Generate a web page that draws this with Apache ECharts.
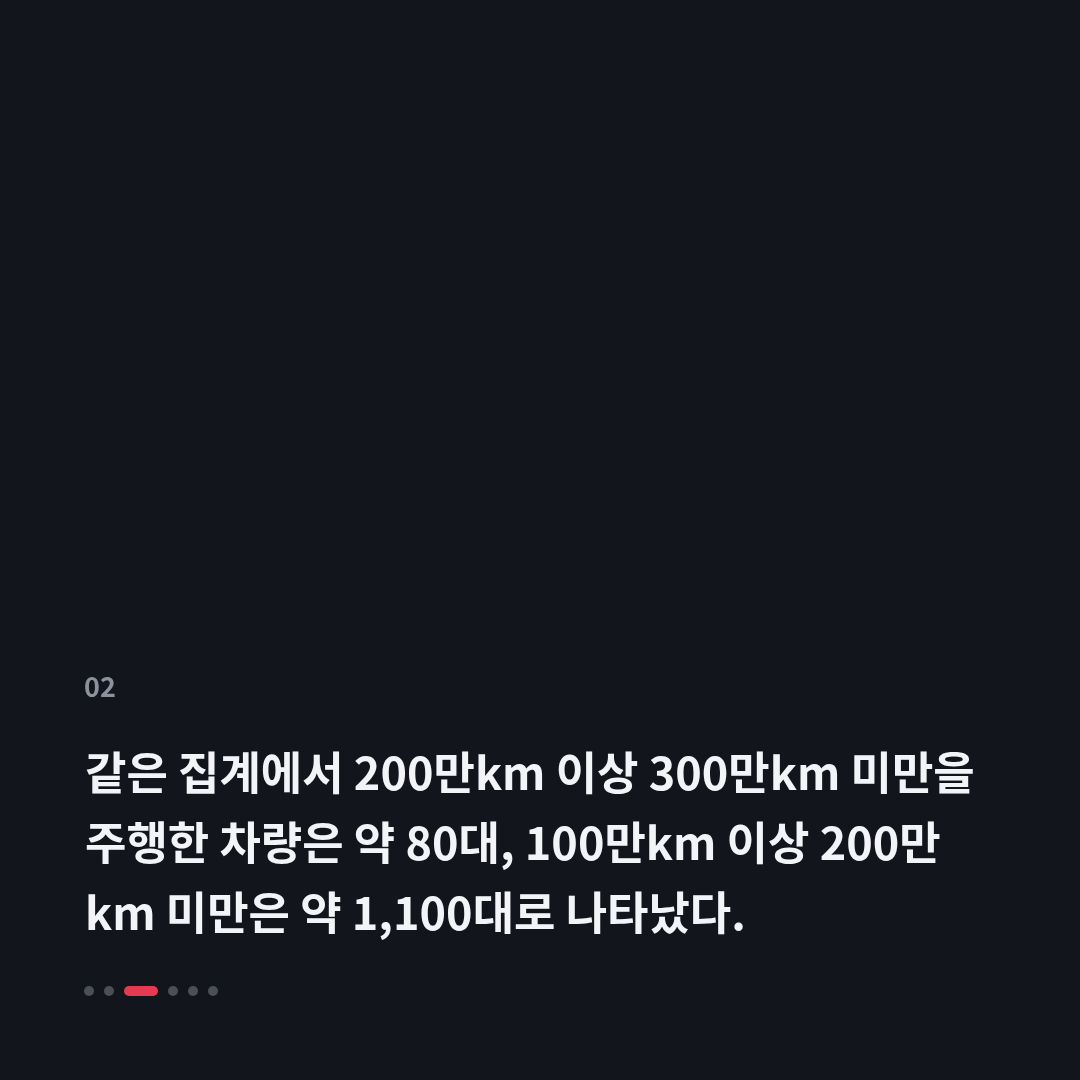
<!DOCTYPE html>
<html><head><meta charset="utf-8">
<script src="https://cdn.jsdelivr.net/npm/echarts@6/dist/echarts.min.js"></script>
<style>html,body{margin:0;padding:0;background:#12151c;}#c{width:1080px;height:1080px;}</style>
</head><body><div id="c"></div>
<script>
const slideNumber = "02";
const bodyLines = [
  "같은 집계에서 200만km 이상 300만km 미만을",
  "주행한 차량은 약 80대, 100만km 이상 200만",
  "km 미만은 약 1,100대로 나타났다."
];
const pageCount = 6;
const activePage = 2;

const chart = echarts.init(document.getElementById('c'), null, {renderer: 'canvas'});
const graphics = [];
graphics.push({
  type: 'text', x: 84, y: 687,
  style: {text: slideNumber, fill: '#8a929d', font: '600 27px "Noto Sans CJK KR", "Noto Sans"', letterSpacing: 2, textVerticalAlign: 'middle'}
});
bodyLines.forEach((t, i) => {
  graphics.push({
    type: 'text', x: 85, y: 773 + i * 70,
    style: {text: t, fill: '#f3f4f7', font: 'bold 45px "Noto Sans CJK KR"', textVerticalAlign: 'middle', textAlign: 'left'}
  });
});
let x = 84;
for (let i = 0; i < pageCount; i++) {
  if (i === activePage) {
    graphics.push({type: 'rect', shape: {x: x, y: 986, width: 34, height: 10, r: 5}, style: {fill: '#e63a52'}});
    x += 34 + 10;
  } else {
    graphics.push({type: 'circle', shape: {cx: x + 5, cy: 991, r: 5}, style: {fill: '#4b5058'}});
    x += 20;
  }
}
chart.setOption({backgroundColor: '#12151c', graphic: graphics});
</script></body></html>
